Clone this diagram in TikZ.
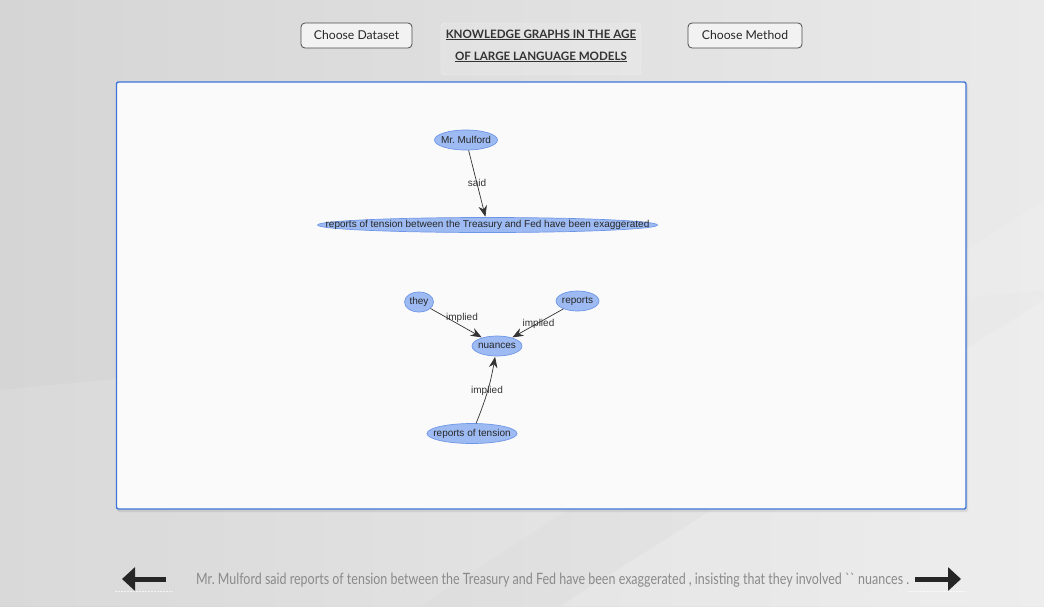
\documentclass[tikz,border=0pt]{standalone}
\usepackage{fontspec}
\setmainfont{Liberation Sans}
\newfontfamily\uifont{Lato}
\usetikzlibrary{shapes.geometric,arrows.meta}
\definecolor{bgdark}{HTML}{D5D5D5}
\definecolor{bglight}{HTML}{EAEAEA}
\definecolor{panelblue}{HTML}{3E74DA}
\definecolor{nodefill}{HTML}{9DBBF2}
\definecolor{nodeline}{HTML}{6E96E8}
\definecolor{edgecol}{HTML}{333333}
\definecolor{captiongray}{HTML}{8A8A8A}
\tikzset{
  btn/.style={draw=black!70, line width=0.8pt, rounded corners=4pt, fill=black!5,
    minimum height=25pt, inner sep=0pt, font=\uifont\fontsize{12.2}{14}\selectfont, text=black!85},
  ent/.style={ellipse, draw=nodeline, line width=0.7pt, fill=nodefill, inner sep=0pt,
    font=\fontsize{10}{11}\selectfont, text=black!85},
  rel/.style={-{Stealth[length=11pt,width=8.5pt]}, draw=edgecol, line width=0.7pt, shorten >=0.5pt},
  rellabel/.style={font=\fontsize{10}{11}\selectfont, text=black!80, inner sep=1pt},
  ttl/.style={font=\uifont\bfseries\fontsize{11.6}{14}\selectfont, text=black!80, inner sep=0pt},
  navarrow/.style={-{Triangle[length=13pt,width=23pt]}, line width=5pt, draw=black!85},
}
\newcommand{\ul}[1]{\underline{#1}}
\begin{document}
\begin{tikzpicture}[x=1pt,y=-1pt]
  % page background
  \useasboundingbox (0,0) rectangle (1044,606);
  \shade[left color=bgdark, right color=bglight] (0,0) rectangle (1044,606);
  \fill[white, opacity=0.18] (1044,300) -- (1044,606) -- (560,606) -- cycle;
  \fill[white, opacity=0.10] (0,390) -- (0,606) -- (420,606) -- (1044,200) -- (1044,290) -- cycle;

  % header
  \node[btn, minimum width=111pt] (dataset) at (356.5,35.5) {Choose Dataset};
  \node[btn, minimum width=114pt] (method) at (745,35.5) {Choose Method};
  \node[draw=white, draw opacity=0.5, fill=white, fill opacity=0.15, rounded corners=4pt,
        minimum width=200pt, minimum height=52pt, inner sep=0pt] (titlebox) at (541,49) {};
  \node[ttl] (title1) at (541,35) {\ul{KNOWLEDGE GRAPHS IN THE AGE}};
  \node[ttl] (title2) at (541,57) {\ul{OF LARGE LANGUAGE MODELS}};

  % graph panel
  \fill[black, opacity=0.08, rounded corners=2pt] (117,84) rectangle (968,512);
  \draw[panelblue, line width=1.4pt, fill=white!98!black, rounded corners=2pt]
    (116.5,82) rectangle (966,509);

  % entities
  \node[ent, minimum width=63pt, minimum height=20pt] (mulford) at (466,140) {\makebox[0pt]{Mr.\ Mulford}};
  \node[ent, minimum width=340pt, minimum height=15pt] (claim) at (487.5,225)
    {\makebox[0pt]{reports of tension between the Treasury and Fed have been exaggerated}};
  \node[ent, minimum width=29pt, minimum height=20pt] (they) at (419,302) {\makebox[0pt]{they}};
  \node[ent, minimum width=43pt, minimum height=20pt] (reports) at (577.5,301) {\makebox[0pt]{reports}};
  \node[ent, minimum width=50pt, minimum height=20pt] (nuances) at (497,346) {\makebox[0pt]{nuances}};
  \node[ent, minimum width=90pt, minimum height=20pt] (tension) at (472,433.5) {\makebox[0pt]{reports of tension}};

  % relations
  \draw[rel] (mulford) -- (claim);
  \node[rellabel] (lsaid) at (477,183) {said};
  \draw[rel] (they) -- (nuances);
  \node[rellabel] (limp1) at (462,318) {implied};
  \draw[rel] (reports) -- (nuances);
  \node[rellabel] (limp2) at (538.5,324) {implied};
  \draw[rel] (tension) to[bend right=6] (nuances);
  \node[rellabel] (limp3) at (487,391) {implied};

  % footer navigation and sentence
  \coordinate (lstart) at (166,579);
  \coordinate (lend) at (122,579);
  \coordinate (rstart) at (915,579);
  \coordinate (rend) at (961,579);
  \draw[navarrow] (lstart) -- (lend);
  \draw[navarrow] (rstart) -- (rend);
  \draw[white, opacity=0.7, line width=0.6pt, dash pattern=on 2pt off 1pt] (115,591) -- (173,591);
  \draw[white, opacity=0.7, line width=0.6pt, dash pattern=on 2pt off 1pt] (908,591) -- (966,591);
  \node[anchor=base west, inner sep=0pt, text=captiongray, font=\uifont\fontsize{12}{14}\selectfont] (caption) at (196,584)
    {\resizebox{713pt}{11.5pt}{Mr.\ Mulford said reports of tension between the Treasury and Fed have been exaggerated , insisting that they involved `` nuances .}};
\end{tikzpicture}
\end{document}
